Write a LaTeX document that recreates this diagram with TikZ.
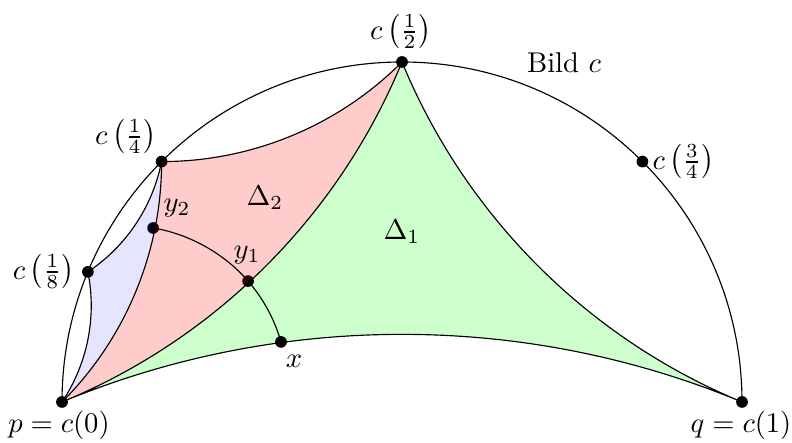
\documentclass[tikz,border=0pt]{standalone}
\usetikzlibrary{calc}
\begin{document}
\begin{tikzpicture}[x=0.35pt,y=0.35pt,
  geo/.style={bend right=22.6, looseness=0.885},
  geol/.style={bend left=22.6, looseness=0.885},
  dot/.style={circle, fill=black, inner sep=0pt, minimum size=4.1pt},
  lbl/.style={inner sep=0pt},
  gfill/.style={fill=green!20},
  rfill/.style={fill=red, fill opacity=0.2},
  bfill/.style={fill=blue, fill opacity=0.1}]
\useasboundingbox (0,0) rectangle (792,443);
% points
\coordinate (o) at (402,41);
\coordinate (p) at (62,41);
\coordinate (q) at (742,41);
\coordinate (c12) at ($(o)+(90:340)$);
\coordinate (c14) at ($(o)+(135:340)$);
\coordinate (c18) at ($(o)+(157.5:340)$);
\coordinate (c34) at ($(o)+(45:340)$);
\coordinate (ac) at (127.3,57.3);
\coordinate (x) at ($(ac)+(15.9:159.8)$);
\coordinate (y1) at ($(ac)+(40.9:159.8)$);
\coordinate (y2) at ($(ac)+(80.7:159.8)$);
% green fill
\fill[gfill] (p) to[geo] (c12) to[geo] (q) to[geo] (p);
% dots
\foreach \n in {p,q,c12,c14,c18,c34,x,y1,y2}
  \node[dot] (d\n) at (\n) {};
% translucent fills
\fill[rfill] (p) to[geo] (c14) to[geo] (c12) to[geol] (p);
\fill[bfill] (p) to[geo] (c18) to[geo] (c14) to[geol] (p);
% lines
\draw (q) arc[start angle=0, end angle=180, radius=119pt];
\draw (p) to[geo] (c12) to[geo] (q) to[geo] (p);
\draw (p) to[geo] (c14) to[geo] (c12);
\draw (p) to[geo] (c18) to[geo] (c14);
\draw (x) to[bend right=12.5, looseness=0.86] (y1) to[bend right=19.9, looseness=0.86] (y2);
% labels
\node[lbl] (lc12) at (401,411) {$c\left(\frac{1}{2}\right)$};
\node[lbl] (lbild) at (564,380) {Bild $c$};
\node[lbl, anchor=west] (lc34) at (652,281) {$c\left(\frac{3}{4}\right)$};
\node[lbl] (lc14) at (126,306) {$c\left(\frac{1}{4}\right)$};
\node[lbl, anchor=east] (lc18) at (75,171) {$c\left(\frac{1}{8}\right)$};
\node[lbl] (ly2) at (177,235) {$y_2$};
\node[lbl] (ly1) at (247,188) {$y_1$};
\node[lbl] (lx) at (294,82) {$x$};
\node[lbl] (lp) at (59,18) {$p=c(0)$};
\node[lbl] (lq) at (741,18) {$q=c(1)$};
\node[lbl] (lD1) at (402,211) {$\Delta_1$};
\node[lbl] (lD2) at (265,245) {$\Delta_2$};
\end{tikzpicture}
\end{document}
